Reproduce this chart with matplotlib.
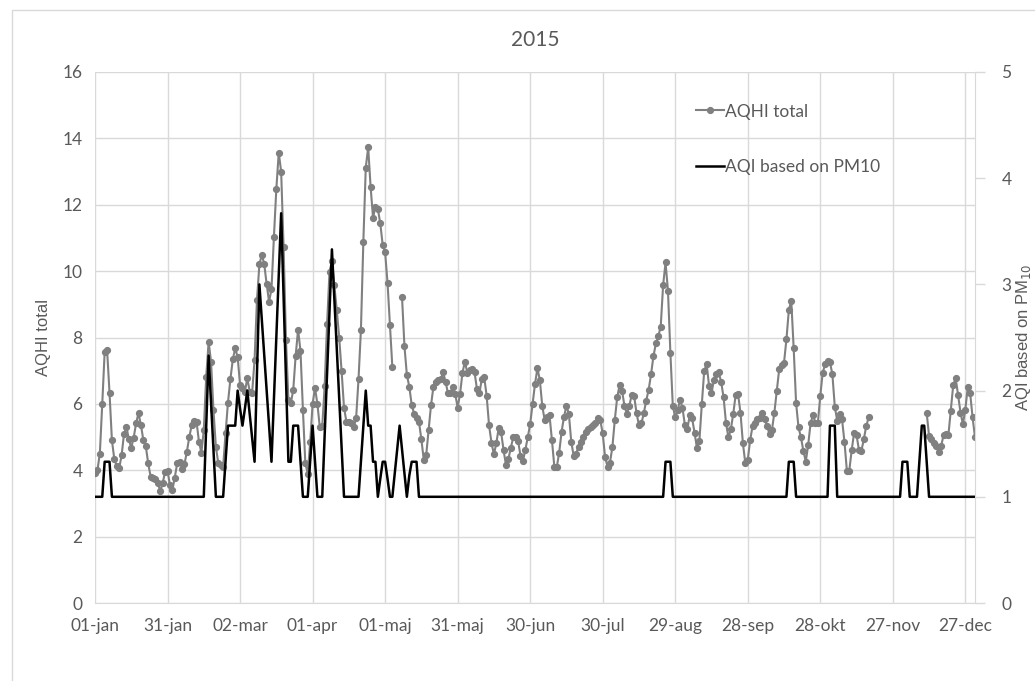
import numpy as np
import matplotlib
matplotlib.use('Agg')
import matplotlib.pyplot as plt
from matplotlib.patches import Rectangle

nan = np.nan

# daily values for 2015 (day 0 = 01-jan)
aqhi_total = [
    3.91, 4.0, 4.5, 6.0, 7.57, 7.62, 6.34, 4.9, 4.33, 4.13,
    4.06, 4.45, 5.09, 5.31, 4.93, 4.68, 4.98, 5.42, 5.72, 5.36,
    4.91, 4.73, 4.21, 3.81, 3.76, 3.73, 3.61, 3.37, 3.61, 3.96,
    3.98, 3.56, 3.41, 3.78, 4.21, 4.25, 4.04, 4.18, 4.56, 5.0,
    5.36, 5.49, 5.46, 4.86, 4.53, 5.21, 6.82, 7.87, 7.27, 5.81,
    4.71, 4.21, 4.15, 4.11, 5.11, 6.04, 6.74, 7.34, 7.67, 7.42,
    6.57, 6.49, 6.37, 6.77, 6.37, 6.34, 7.32, 9.13, 10.2, 10.5,
    10.21, 9.61, 9.08, 9.45, 11.02, 12.47, 13.57, 13.0, 10.74, 7.92,
    6.12, 6.02, 6.42, 7.45, 8.24, 7.59, 5.83, 4.21, 3.9, 4.84,
    5.99, 6.49, 5.99, 5.29, 5.33, 6.54, 8.41, 9.98, 10.3, 9.58,
    8.83, 8.0, 6.99, 5.89, 5.46, 5.46, 5.41, 5.29, 5.56, 6.74,
    8.24, 10.89, 13.12, 13.73, 12.54, 11.61, 11.94, 11.87, 11.44, 10.79,
    10.57, 9.65, 8.38, 7.1, nan, nan, nan, 9.21, 7.74, 6.87,
    6.52, 5.97, 5.7, 5.56, 5.46, 4.93, 4.31, 4.46, 5.21, 5.97,
    6.52, 6.67, 6.72, 6.74, 6.95, 6.67, 6.32, 6.32, 6.5, 6.3,
    5.89, 6.3, 6.94, 7.27, 6.94, 7.02, 7.05, 6.95, 6.44, 6.32,
    6.75, 6.8, 6.24, 5.35, 4.83, 4.48, 4.81, 5.28, 5.14, 4.6,
    4.16, 4.34, 4.68, 4.99, 5.01, 4.88, 4.44, 4.28, 4.61, 4.99,
    5.39, 5.99, 6.6, 7.07, 6.72, 5.94, 5.51, 5.59, 5.66, 4.91,
    4.11, 4.09, 4.53, 5.16, 5.61, 5.94, 5.7, 4.86, 4.43, 4.49,
    4.71, 4.86, 4.99, 5.16, 5.23, 5.29, 5.36, 5.43, 5.56, 5.51,
    5.11, 4.39, 4.11, 4.23, 4.69, 5.51, 6.2, 6.57, 6.4, 5.94,
    5.7, 5.94, 6.27, 6.24, 5.72, 5.36, 5.41, 5.72, 6.1, 6.42,
    6.89, 7.44, 7.82, 8.04, 8.33, 9.58, 10.26, 9.41, 7.54, 5.94,
    5.59, 5.81, 6.12, 5.88, 5.36, 5.23, 5.66, 5.56, 5.13, 4.66,
    4.89, 5.99, 7.0, 7.2, 6.54, 6.32, 6.72, 6.9, 6.95, 6.66,
    6.2, 5.43, 4.99, 5.23, 5.7, 6.27, 6.29, 5.73, 4.81, 4.21,
    4.31, 4.91, 5.33, 5.43, 5.53, 5.56, 5.73, 5.53, 5.33, 5.09,
    5.21, 5.73, 6.4, 7.04, 7.17, 7.24, 7.94, 8.83, 9.11, 7.67,
    6.02, 5.29, 4.99, 4.59, 4.26, 4.76, 5.43, 5.66, 5.43, 5.43,
    6.24, 6.94, 7.19, 7.3, 7.25, 6.9, 5.92, 5.49, 5.69, 5.53,
    4.86, 3.99, 3.99, 4.61, 5.13, 5.06, 4.61, 4.58, 4.93, 5.33,
    5.59, nan, nan, nan, nan, nan, nan, nan, nan, nan,
    nan, nan, nan, nan, nan, nan, nan, nan, nan, nan,
    nan, nan, nan, nan, 5.74, 5.03, 4.93, 4.83, 4.74, 4.56,
    4.73, 5.06, 5.09, 5.06, 5.8, 6.57, 6.77, 6.27, 5.74, 5.39,
    5.83, 6.5, 6.32, 5.59, 4.99,
]

aqi_pm10 = [
    1, 1, 1, 1, 1.33, 1.33, 1.33, 1, 1, 1,
    1, 1, 1, 1, 1, 1, 1, 1, 1, 1,
    1, 1, 1, 1, 1, 1, 1, 1, 1, 1,
    1, 1, 1, 1, 1, 1, 1, 1, 1, 1,
    1, 1, 1, 1, 1, 1, 1.67, 2.33, 1.89, 1.44,
    1, 1, 1, 1, 1.33, 1.67, 1.67, 1.67, 1.67, 2.0,
    1.83, 1.67, 1.83, 2.0, 1.78, 1.55, 1.33, 2.17, 3.0, 2.67,
    2.33, 2.0, 1.67, 1.33, 1.92, 2.5, 3.08, 3.67, 2.9, 2.1,
    1.33, 1.33, 1.67, 1.67, 1.67, 1.33, 1, 1, 1, 1.33,
    1.67, 1.33, 1, 1, 1, 1.58, 2.17, 2.75, 3.33, 2.86,
    2.4, 1.93, 1.47, 1, 1, 1, 1, 1, 1, 1,
    1.33, 1.67, 2.0, 1.67, 1.67, 1.33, 1.33, 1, 1.17, 1.33,
    1.33, 1.17, 1, 1, 1.22, 1.44, 1.67, 1.44, 1.22, 1,
    1.2, 1.33, 1.33, 1.33, 1, 1, 1, 1, 1, 1,
    1, 1, 1, 1, 1, 1, 1, 1, 1, 1,
    1, 1, 1, 1, 1, 1, 1, 1, 1, 1,
    1, 1, 1, 1, 1, 1, 1, 1, 1, 1,
    1, 1, 1, 1, 1, 1, 1, 1, 1, 1,
    1, 1, 1, 1, 1, 1, 1, 1, 1, 1,
    1, 1, 1, 1, 1, 1, 1, 1, 1, 1,
    1, 1, 1, 1, 1, 1, 1, 1, 1, 1,
    1, 1, 1, 1, 1, 1, 1, 1, 1, 1,
    1, 1, 1, 1, 1, 1, 1, 1, 1, 1,
    1, 1, 1, 1, 1, 1, 1.33, 1.33, 1.33, 1,
    1, 1, 1, 1, 1, 1, 1, 1, 1, 1,
    1, 1, 1, 1, 1, 1, 1, 1, 1, 1,
    1, 1, 1, 1, 1, 1, 1, 1, 1, 1,
    1, 1, 1, 1, 1, 1, 1, 1, 1, 1,
    1, 1, 1, 1, 1, 1, 1, 1.33, 1.33, 1.33,
    1, 1, 1, 1, 1, 1, 1, 1, 1, 1,
    1, 1, 1, 1, 1.67, 1.67, 1.67, 1, 1, 1,
    1, 1, 1, 1, 1, 1, 1, 1, 1, 1,
    1, 1, 1, 1, 1, 1, 1, 1, 1, 1,
    1, 1, 1, 1, 1.33, 1.33, 1.33, 1, 1, 1,
    1, 1.33, 1.67, 1.67, 1.33, 1, 1, 1, 1, 1,
    1, 1, 1, 1, 1, 1, 1, 1, 1, 1,
    1, 1, 1, 1, 1,
]

tick_days = [0, 30, 60, 90, 120, 150, 180, 210, 240, 270, 300, 330, 360]
tick_labels = ['01-jan', '31-jan', '02-mar', '01-apr', '01-maj', '31-maj', '30-jun',
               '30-jul', '29-aug', '28-sep', '28-okt', '27-nov', '27-dec']

days = np.arange(len(aqhi_total))

txt = '#595959'
grid = '#d9d9d9'
plt.rcParams['font.family'] = ['Lato', 'DejaVu Sans']

fig = plt.figure(figsize=(10.35, 6.81), dpi=100)
# chart-area border (right and bottom edges fall outside the picture)
fig.patches.append(Rectangle((12/1035, -0.05), 1.1, 1 - 10/681 + 0.05, transform=fig.transFigure,
                             fill=False, edgecolor=grid, linewidth=1))

ax = fig.add_axes([95/1035, 1-603/681, 880/1035, 531/681])
ax2 = ax.twinx()

l1, = ax.plot(days, aqhi_total, color='#808080', lw=1.5, marker='o', ms=4.2,
              mec='#808080', mfc='#808080', label='AQHI total')
l2, = ax2.plot(days, aqi_pm10, color='black', lw=1.8, label='AQI based on PM10')

ax.set_xlim(0, 364)
ax.set_ylim(0, 16)
ax.set_yticks(np.arange(0, 17, 2))
ax2.set_ylim(0, 5)
ax2.set_yticks(range(6))
ax.set_xticks(tick_days)
ax.set_xticklabels(tick_labels)

ax.grid(True, color=grid, lw=1)
ax.set_axisbelow(True)
for a in (ax, ax2):
    for s in a.spines.values():
        s.set_visible(False)
ax.spines['bottom'].set_visible(True)
ax.spines['bottom'].set_color(grid)
ax2.spines['right'].set_visible(True)
ax2.spines['right'].set_color(grid)

ax.tick_params(axis='x', length=0, pad=11, labelsize=12.5, labelcolor=txt)
ax.tick_params(axis='y', length=0, pad=9, labelsize=12.5, labelcolor=txt)
ax2.tick_params(axis='y', length=7, width=1, color=grid, pad=12, labelsize=12.5, labelcolor=txt)

ax.set_ylabel('AQHI total', family='Liberation Sans', fontsize=12, color=txt, labelpad=8)
ax2.set_ylabel('AQI based on PM$_{10}$', family='Liberation Sans', fontsize=12, color=txt, labelpad=2)
ax.set_title('2015', fontsize=15, color=txt, pad=19)

ax2.legend(handles=[l1, l2], loc='upper left', bbox_to_anchor=(0.665, 0.97), frameon=False,
           fontsize=12.5, labelcolor=txt, handlelength=1.6, handletextpad=0.1,
           labelspacing=2.3, numpoints=1)

fig.savefig('out.png', dpi=100)
